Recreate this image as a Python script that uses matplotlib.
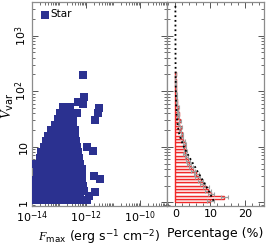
import numpy as np
import matplotlib
matplotlib.use("Agg")
import matplotlib.pyplot as plt
from matplotlib.ticker import FixedLocator, LogLocator, NullFormatter, MultipleLocator

plt.rcParams['font.family'] = ['DejaVu Sans']
plt.rcParams['mathtext.fontset'] = 'custom'
plt.rcParams['mathtext.rm'] = 'DejaVu Sans'
plt.rcParams['mathtext.it'] = 'Liberation Serif:italic'
plt.rcParams['mathtext.sf'] = 'DejaVu Sans'

# ---------------- data ----------------
# scatter: rows of log10(Vvar), each with a list of log10(Fmax) values
row_logv = [0.04, 0.12, 0.20, 0.30, 0.40, 0.50, 0.60, 0.70, 0.80, 0.90,
            1.00, 1.10, 1.20, 1.30, 1.40, 1.50, 1.60, 1.72]
row_logf = [
    [-13.92, -13.72, -13.52, -13.32, -13.12, -12.92, -12.72, -12.52, -12.32, -12.15, -11.95],
    [-13.95, -13.82, -13.62, -13.42, -13.22, -13.02, -12.82, -12.62, -12.42, -12.22, -11.88],
    [-13.93, -13.73, -13.50, -13.30, -13.10, -12.90, -12.70, -12.50, -12.30, -12.08],
    [-13.95, -13.82, -13.62, -13.42, -13.22, -13.02, -12.82, -12.62, -12.42, -12.25, -12.12],
    [-13.92, -13.70, -13.50, -13.30, -13.10, -12.90, -12.70, -12.50, -12.30, -12.15],
    [-13.82, -13.62, -13.42, -13.22, -13.02, -12.82, -12.62, -12.42, -12.25, -12.16],
    [-13.80, -13.64, -13.48, -13.28, -13.08, -12.88, -12.68, -12.48, -12.28, -12.15],
    [-13.92, -13.78, -13.60, -13.40, -13.20, -13.00, -12.80, -12.60, -12.40, -12.22],
    [-13.72, -13.55, -13.35, -13.15, -12.95, -12.75, -12.55, -12.35, -12.25],
    [-13.65, -13.48, -13.28, -13.08, -12.88, -12.68, -12.48, -12.30],
    [-13.55, -13.35, -13.15, -12.95, -12.75, -12.55, -12.35],
    [-13.50, -13.32, -13.12, -12.92, -12.72, -12.52, -12.36],
    [-13.40, -13.20, -13.00, -12.80, -12.60, -12.42],
    [-13.30, -13.12, -12.92, -12.72, -12.54, -12.42],
    [-13.15, -12.95, -12.75, -12.50],
    [-13.02, -12.86, -12.68, -12.48],
    [-12.95, -12.75, -12.55, -12.32],
    [-12.86, -12.59],
]
# isolated stars (log10 Fmax, log10 Vvar)
out_logf = [-12.10, -12.06, -12.12, -12.29, -11.52, -11.56, -11.68,
            -11.98, -11.75, -11.71, -11.48, -11.68]
out_logv = [2.29, 1.89, 1.77, 1.80, 1.70, 1.60, 1.48,
            1.00, 0.93, 0.48, 0.43, 0.18]

# histogram of log10(Vvar), bin width 0.06 dex starting at Vvar = 1
bin_width_dex = 0.06
hist_pct = [10.0, 14.0, 10.2, 9.3, 8.8, 7.8, 7.2, 6.4, 6.0, 5.0,
            4.5, 4.0, 3.6, 3.1, 2.6, 2.8, 2.5, 2.6, 2.2, 1.7,
            1.9, 1.2, 1.5, 0.9, 1.2, 0.75, 0.9, 0.6, 0.75, 0.4,
            0.4, 0.25, 0.3, 0.15, 0.2, 0.1, 0.1, 0.0, 0.15]
hist_err = [0.9, 1.1, 0.9, 0.85, 0.8, 0.75, 0.7, 0.7, 0.65, 0.6,
            0.55, 0.55, 0.5, 0.5, 0.45, 0.45, 0.4, 0.45, 0.4, 0.35,
            0.35, 0.3, 0.3, 0.25, 0.3, 0.25, 0.25, 0.2, 0.25, 0.15,
            0.15, 0.12, 0.12, 0.1, 0.1, 0.08, 0.08, 0.0, 0.1]
# dotted reference distribution, same bins, up to the top of the axis
ref_pct = [10.9, 10.4, 10.0, 9.5, 9.0, 8.4, 7.9, 7.3, 6.8, 6.2,
           5.7, 5.1, 4.6, 4.0, 3.5, 3.0, 2.5, 2.1, 1.7, 1.4,
           1.1, 0.9, 0.75, 0.6, 0.5, 0.4, 0.35, 0.3, 0.25, 0.2,
           0.18, 0.15, 0.13, 0.11, 0.10, 0.09, 0.08, 0.07, 0.06, 0.05,
           0.05, 0.04, 0.04, 0.03, 0.03, 0.03, 0.02, 0.02, 0.02, 0.02,
           0.01, 0.01, 0.01, 0.01, 0.01, 0.01, 0.0, 0.0, 0.0, 0.0]

x_ticks = [1e-14, 1e-12, 1e-10]
x_ticklabels = ['$10^{-14}$', '$10^{-12}$', '$10^{-10}$']
y_ticks = [1, 10, 100, 1000]
y_ticklabels = ['1', '10', '$10^2$', '$10^3$']
p_ticks = [0, 10, 20]

# ---------------- figure ----------------
W, H = 266, 245
fig = plt.figure(figsize=(W / 100, H / 100), dpi=100)
ax1 = fig.add_axes([32 / W, 1 - 206 / H, 135 / W, 204 / H])
ax2 = fig.add_axes([167 / W, 1 - 206 / H, 97 / W, 204 / H], sharey=ax1)

star_col = '#2b3190'
spine_col = '#8c8c8c'

sf, sv = [], []
for lv, fl in zip(row_logv, row_logf):
    for lf in fl:
        sf.append(lf)
        sv.append(lv)
sf = np.power(10.0, np.array(sf + out_logf))
sv = np.power(10.0, np.array(sv + out_logv))

ax1.scatter(sf, sv, marker='s', s=32, color=star_col, linewidths=0, label='Star', zorder=3)
ax1.set_xscale('log')
ax1.set_yscale('log')
ax1.set_xlim(1e-14, 1e-9)
ax1.set_ylim(0.865, 4000)
ax1.xaxis.set_major_locator(FixedLocator(x_ticks))
ax1.set_xticklabels(x_ticklabels)
ax1.xaxis.set_minor_locator(LogLocator(base=10, subs=np.arange(1, 10), numticks=50))
ax1.xaxis.set_minor_formatter(NullFormatter())
ax1.yaxis.set_major_locator(FixedLocator(y_ticks))
ax1.set_yticklabels(y_ticklabels, rotation=90, va='center')
ax1.yaxis.set_minor_locator(LogLocator(base=10, subs=np.arange(2, 10), numticks=50))
ax1.yaxis.set_minor_formatter(NullFormatter())
ax1.set_xlabel('$F_{\\rm max}$ (erg s$^{-1}$ cm$^{-2}$)', fontsize=9)
ax1.xaxis.set_label_coords(0.5, -0.105)
ax1.set_ylabel('$V_{\\rm var}$', fontsize=10)
ax1.yaxis.set_label_coords(-0.12, 0.49)
leg = ax1.legend(loc='upper left', frameon=False, fontsize=7.5, handletextpad=0.1,
                 markerscale=1.0, borderaxespad=0.3, handlelength=1.0)

# histogram panel
nb = len(hist_pct)
edges = np.power(10.0, bin_width_dex * np.arange(nb + 1))
centres = np.sqrt(edges[:-1] * edges[1:])
ax2.barh(edges[:-1], hist_pct, height=edges[1:] - edges[:-1], align='edge',
         facecolor='white', edgecolor='#f02828', linewidth=1.0, zorder=2)
ax2.errorbar(hist_pct, centres, xerr=hist_err, fmt='none', ecolor='#a0a0a0',
             elinewidth=0.9, capsize=1.2, capthick=0.8, zorder=3)
nr = len(ref_pct)
redges = np.power(10.0, bin_width_dex * np.arange(nr + 1))
rcent = np.sqrt(redges[:-1] * redges[1:])
ax2.plot(ref_pct, rcent, color='black', linestyle=(0, (1, 1.6)), linewidth=1.3, zorder=4)
ax2.set_xlim(-2.4, 25.3)
ax2.xaxis.set_major_locator(FixedLocator(p_ticks))
ax2.xaxis.set_minor_locator(MultipleLocator(2))
ax2.set_xlabel('Percentage (%)', fontsize=9)
ax2.xaxis.set_label_coords(0.5, -0.105)
plt.setp(ax2.get_yticklabels(), visible=False)

for ax in (ax1, ax2):
    ax.tick_params(which='both', direction='in', top=True, right=True,
                   color='#555555', labelsize=8, pad=2)
    ax.tick_params(which='major', length=4, width=0.7)
    ax.tick_params(which='minor', length=2, width=0.6)
    for s in ax.spines.values():
        s.set_color(spine_col)
        s.set_linewidth(0.9)
ax2.tick_params(axis='y', which='both', labelleft=False)

fig.savefig('out.png', dpi=100)
